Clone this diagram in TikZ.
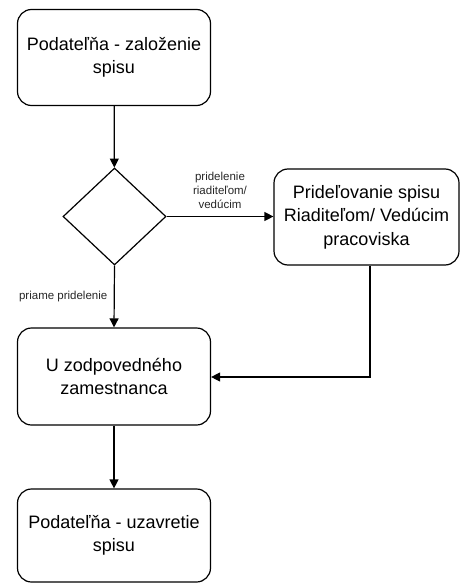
\documentclass[tikz,border=0pt]{standalone}
\usepackage{fontspec}
\setmainfont{Liberation Sans}
\usetikzlibrary{arrows.meta,shapes.geometric}
\begin{document}
\begin{tikzpicture}[x=1pt,y=-1pt,
  proc/.style={draw, line width=1.2pt, rounded corners=14pt, inner sep=0pt,
    align=center, font=\fontsize{18}{23.5}\selectfont},
  decision/.style={draw, line width=1.2pt, diamond, aspect=1.06, inner sep=0pt},
  flow/.style={line width=1.2pt, -{Triangle[length=9pt,width=9pt]}},
  lbl/.style={font=\fontsize{11.5}{14}\selectfont, align=center, text=black!85}]
  \useasboundingbox (0,0) rectangle (460,583);

  \node[proc, minimum width=193pt, minimum height=96pt] (start) at (114,57.5)
    {Podateľňa - založenie\\spisu};
  \node[decision, minimum width=103pt, minimum height=97pt] (dec) at (114.5,216.5) {};
  \node[proc, minimum width=185pt, minimum height=96pt] (assign) at (366.5,217)
    {Prideľovanie spisu\\Riaditeľom/ Vedúcim\\pracoviska};
  \node[proc, minimum width=193pt, minimum height=97pt] (worker) at (114,376.5)
    {U zodpovedného\\zamestnanca};
  \node[proc, minimum width=193pt, minimum height=93pt] (close) at (114,535.5)
    {Podateľňa - uzavretie\\spisu};

  \coordinate (bend) at (370,377);

  \draw[flow] (start) -- (dec);
  \draw[flow] (dec.east) -- (dec.east -| assign.west)
    node[lbl, midway, above=4pt] {pridelenie\\riaditeľom/\\vedúcim};
  \draw[flow] (dec.south) -- (worker.north)
    node[lbl, pos=0.5, left=3pt] {priame pridelenie};
  \draw[flow] (assign.south -| bend) -- (bend) -- (worker.east |- bend);
  \draw[flow] (worker) -- (close);
\end{tikzpicture}
\end{document}
